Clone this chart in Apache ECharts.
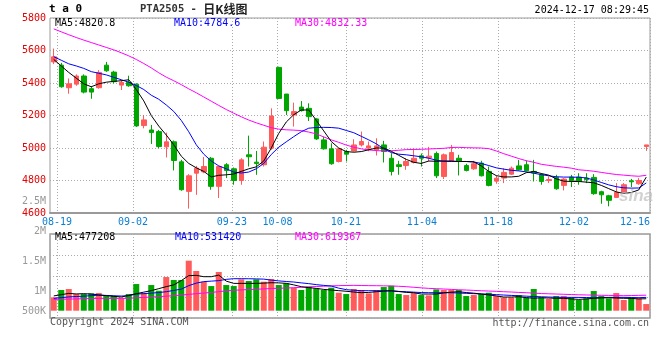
<!DOCTYPE html>
<html><head><meta charset="utf-8">
<script src="https://cdn.jsdelivr.net/npm/echarts@6/dist/echarts.min.js"></script>
<style>html,body{margin:0;padding:0;background:#fff}#c{width:660px;height:360px}</style>
</head><body><div id="c"></div>
<script>
// ---------- data ----------
const dates = ['08-16','08-19','08-20','08-21','08-22','08-23','08-26','08-27','08-28','08-29','08-30',
'09-02','09-03','09-04','09-05','09-06','09-09','09-10','09-11','09-12','09-13','09-18','09-19','09-20','09-23','09-24','09-25','09-26','09-27','09-30',
'10-08','10-09','10-10','10-11','10-14','10-15','10-16','10-17','10-18','10-21','10-22','10-23','10-24','10-25','10-28','10-29','10-30','10-31',
'11-01','11-04','11-05','11-06','11-07','11-08','11-11','11-12','11-13','11-14','11-15','11-18','11-19','11-20','11-21','11-22','11-25','11-26','11-27','11-28','11-29',
'12-02','12-03','12-04','12-05','12-06','12-09','12-10','12-11','12-12','12-13','12-16'];

const open = [5530,5510,5371,5393,5443,5365,5371,5510,5467,5387,5404,
5393,5138,5111,5101,5007,5038,4915,4733,4845,4853,4937,4764,4897,4872,4800,4958,4913,4897,4999,
5496,5332,5203,5252,5244,5179,5050,4995,4917,4978,4982,5019,4999,4989,5019,4937,4897,4892,
4911,4952,4940,4966,4825,4921,4937,4892,4872,4907,4856,4796,4815,4839,4890,4897,4856,4835,4800,4819,4770,
4821,4821,4815,4819,4731,4706,4696,4727,4798,4780,5009];
const close = [5561,5377,5395,5443,5344,5344,5465,5475,5408,5404,5383,
5136,5173,5095,5009,5038,4923,4743,4829,4876,4886,4764,4886,4862,4800,4927,4946,4905,5005,5197,
5305,5230,5224,5230,5193,5056,4995,4903,4995,4962,5019,5040,5013,5013,4978,4856,4886,4917,
4937,4937,4950,4829,4958,4972,4917,4862,4903,4829,4770,4814,4850,4876,4866,4860,4846,4794,4806,4749,4809,
4800,4794,4805,4719,4712,4678,4727,4774,4792,4800,5019];
const low = [5516,5371,5334,5383,5336,5303,5365,5469,5398,5357,5377,
5130,5121,5025,4999,4942,4862,4737,4627,4712,4845,4743,4692,4815,4774,4774,4886,4835,4886,4989,
5301,5203,5132,5224,5166,5050,4990,4897,4911,4917,4978,5009,4980,4954,4911,4831,4835,4866,
4905,4886,4917,4815,4809,4917,4831,4856,4866,4825,4764,4780,4784,4835,4860,4856,4794,4774,4784,4743,4739,
4760,4774,4784,4712,4657,4641,4692,4719,4760,4774,4982];
const high = [5612,5524,5428,5453,5453,5381,5479,5530,5475,5418,5445,
5398,5203,5142,5111,5095,5046,4927,4839,4890,4945,4945,4890,4907,4880,4937,5076,4982,5040,5244,
5500,5332,5279,5289,5275,5183,5070,5029,4999,4989,5054,5101,5040,5060,5044,4968,4921,4937,
4999,4966,5007,4978,4966,5019,4958,4903,4921,4921,4886,4830,4876,4886,4927,4923,4927,4845,4825,4835,4815,
4835,4845,4845,4839,4737,4712,4784,4784,4810,4815,5019];

const ma5 = [5545,5505,5465,5430,5395,5377,5395,5405,5410,5414,5420,
5360,5290,5200,5135,5080,5020,4950,4905,4878,4856,4822,4832,4835,4840,4856,4872,4884,4920,5000,
5090,5160,5205,5234,5234,5170,5105,5040,5000,4978,4974,4978,4989,5000,5000,4980,4955,4930,
4912,4905,4920,4918,4920,4920,4917,4917,4915,4890,4856,4830,4822,4822,4826,4848,4856,4843,4833,4810,4796,
4794,4794,4790,4786,4770,4750,4730,4720,4726,4742,4821];
const ma10 = [5562,5540,5518,5505,5490,5470,5460,5450,5435,5420,5405,
5385,5360,5325,5300,5265,5225,5170,5100,5020,4962,4920,4890,4872,4852,4846,4852,4872,4905,4960,
5005,5038,5070,5100,5122,5126,5127,5126,5122,5108,5094,5072,5050,5026,4995,4972,4962,4958,
4952,4946,4937,4925,4918,4917,4917,4917,4914,4905,4892,4878,4870,4863,4859,4853,4845,4836,4829,4823,4821,
4821,4820,4816,4803,4788,4773,4762,4755,4753,4754,4785];
const ma30 = [5733,5715,5697,5680,5664,5649,5634,5619,5604,5586,5567,
5545,5520,5493,5463,5436,5414,5390,5364,5340,5314,5288,5262,5237,5214,5192,5172,5155,5140,5125,
5116,5112,5110,5107,5098,5087,5068,5050,5035,5018,5005,4995,4988,4984,4982,4983,4986,4990,
4991,4992,4994,4996,4998,5003,5004,5002,5001,5000,4996,4982,4965,4950,4935,4922,4912,4900,4893,4887,4882,
4876,4866,4862,4857,4850,4843,4837,4833,4829,4826,4832];

const volume = [532000,825000,865000,665000,665000,692000,705000,585000,585000,492000,665000,
1064000,705000,1024000,798000,1343000,1224000,1224000,1995000,1583000,1157000,984000,1543000,1024000,984000,1250000,1184000,1250000,1157000,1264000,
1024000,1091000,918000,825000,958000,891000,825000,918000,718000,665000,865000,825000,692000,825000,944000,998000,665000,625000,
705000,625000,612000,851000,825000,825000,825000,585000,625000,665000,718000,585000,532000,532000,625000,532000,865000,532000,466000,585000,585000,
532000,426000,492000,785000,585000,492000,705000,426000,532000,492000,266000];
const volMa5 = [590000,640000,690000,670000,680000,665000,630000,600000,575000,545000,610000,
680000,740000,800000,880000,960000,1030000,1200000,1400000,1410000,1357000,1357000,1420000,1180000,1090000,1090000,1091000,1091000,1100000,1117000,
1110000,1091000,1030000,958000,920000,891000,850000,825000,800000,775000,745000,720000,730000,758000,780000,795000,765000,730000,
718000,665000,665000,665000,710000,740000,758000,725000,700000,665000,630000,590000,545000,545000,559000,520000,500000,515000,505000,495000,492000,
470000,452000,470000,492000,510000,519000,505000,495000,492000,470000,477208];
const volMa10 = [492000,520000,550000,565000,580000,600000,620000,610000,595000,585000,600000,
665000,680000,700000,725000,758000,810000,860000,1000000,1100000,1160000,1180000,1200000,1250000,1277000,1277000,1275000,1268000,1260000,1220000,
1190000,1165000,1144000,1110000,1080000,1040000,1010000,984000,900000,840000,815000,800000,798000,798000,798000,790000,770000,758000,
740000,725000,718000,718000,718000,718000,705000,692000,680000,670000,660000,640000,625000,610000,595000,580000,565000,555000,545000,535000,532000,
532000,530000,525000,519000,525000,532000,532000,532000,528000,519000,531420];
const volMa30 = [452000,458000,464000,470000,478000,486000,492000,492000,492000,492000,495000,
515000,530000,545000,560000,580000,600000,625000,650000,680000,705000,730000,758000,790000,815000,830000,845000,855000,870000,885000,
895000,905000,918000,935000,950000,965000,978000,990000,1000000,1005000,1011000,1005000,1000000,998000,992000,985000,975000,958000,
935000,912000,891000,878000,865000,850000,835000,825000,810000,795000,785000,772000,758000,745000,730000,718000,700000,685000,675000,665000,655000,
645000,635000,628000,622000,615000,610000,605000,600000,605000,612000,619367];

const axisDates = ['08-19','09-02','09-23','10-08','10-21','11-04','11-18','12-02','12-16'];
const priceMin = 4600, priceMax = 5800, priceStep = 200;
const volTickMin = 500000, volTickMax = 2500000, volTickStep = 500000;
const priceMaLast = ['4820.8','4784.6','4832.33'];
const volMaLast = ['477208','531420','619367'];
const titleText = 'PTA2505 - ';
const titleCjk = '日K线图';
const stampText = '2024-12-17 08:29:45';
const cornerText = 't a 0';
const copyText = 'Copyright 2024 SINA.COM';
const urlText = 'http://finance.sina.com.cn';

// ---------- chart ----------
const FONT = 'DejaVu Sans Mono';
const UP = '#ff5b5b', DOWN = '#00a600';
const GRIDC = '#ababab';
const tickIdx = axisDates.map(d => dates.indexOf(d));
const candles = dates.map((d, i) => [open[i], close[i], low[i], high[i]]);
const volData = volume.map((v, i) => ({ value: v, itemStyle: { color: close[i] >= open[i] ? UP : DOWN } }));
const volFmt = v => v >= 1e6 ? (v / 1e6) + 'M' : (v / 1e3) + 'K';

const chart = echarts.init(document.getElementById('c'), null, { renderer: 'canvas' });

const dotted = { color: GRIDC, width: 1, type: [1, 2] };
function txt(text, pos, color, extra) {
  return Object.assign({ text: text, padding: 0, itemGap: 0,
    textStyle: Object.assign({ color: color, fontFamily: FONT, fontSize: 10, fontWeight: 'normal' }, extra || {}) }, pos);
}

chart.setOption({
  animation: false,
  backgroundColor: '#fff',
  title: [
    txt(cornerText, { left: 49, top: 4 }, '#000', { fontWeight: 'bold', fontSize: 11 }),
    { text: '{a|' + titleText + '}{b|' + titleCjk + '}', left: 140, top: 3, padding: 0,
      textStyle: { rich: {
        a: { fontFamily: FONT, fontSize: 10.5, color: '#333' },
        b: { fontFamily: 'Noto Sans CJK SC', fontSize: 12, fontWeight: 'bold', color: '#222' } } } },
    txt(stampText, { right: 11, top: 5 }, '#000'),
    txt('MA5:' + priceMaLast[0], { left: 55, top: 18 }, '#000'),
    txt('MA10:' + priceMaLast[1], { left: 174, top: 18 }, '#0000ff'),
    txt('MA30:' + priceMaLast[2], { left: 295, top: 18 }, '#ff00ff'),
    txt('MA5:' + volMaLast[0], { left: 55, top: 232 }, '#000'),
    txt('MA10:' + volMaLast[1], { left: 175, top: 232 }, '#0000ff'),
    txt('MA30:' + volMaLast[2], { left: 295, top: 232 }, '#ff00ff'),
    txt(copyText, { left: 50, top: 317 }, '#555'),
    txt(urlText, { right: 11, top: 318 }, '#555'),
    { text: 'sina', left: 619, top: 188, padding: 0,
      textStyle: { fontFamily: 'Liberation Sans', fontStyle: 'italic', fontWeight: 'bold', fontSize: 17, color: 'rgba(190,190,190,0.7)' } }
  ],
  grid: [
    { left: 50, right: 10, top: 18, height: 195, show: true, borderColor: '#9a9a9a', borderWidth: 1, backgroundColor: 'transparent' },
    { left: 50, right: 10, top: 234, height: 84, show: true, borderColor: '#9a9a9a', borderWidth: 1.5, backgroundColor: 'transparent' },
    { left: 50, right: 10, top: 201, height: 120, show: false }
  ],
  xAxis: [
    { type: 'category', gridIndex: 0, data: dates, boundaryGap: true, show: false },
    { type: 'value', gridIndex: 0, min: 0.08, max: dates.length - 1, position: 'bottom',
      axisLine: { show: true, onZero: false, lineStyle: { color: '#999', width: 2 } },
      axisTick: { show: false, customValues: tickIdx },
      axisLabel: { customValues: tickIdx, formatter: v => dates[Math.round(v)], color: '#0b7fd4',
        fontFamily: FONT, fontSize: 10, margin: 4, alignMaxLabel: 'right' },
      splitLine: { show: true, lineStyle: dotted } },
    { type: 'category', gridIndex: 1, data: dates, boundaryGap: true, show: false },
    { type: 'value', gridIndex: 1, min: 0.08, max: dates.length - 1, position: 'bottom',
      axisLine: { show: false }, axisTick: { show: false, customValues: tickIdx },
      axisLabel: { show: false, customValues: tickIdx },
      splitLine: { show: true, lineStyle: dotted } },
    { type: 'value', gridIndex: 2, min: 0, max: 1, show: false }
  ],
  yAxis: [
    { type: 'value', gridIndex: 0, min: priceMin, max: priceMax, interval: priceStep,
      axisLine: { show: false }, axisTick: { show: false },
      axisLabel: { color: '#e60000', fontFamily: FONT, fontSize: 10, margin: 4, formatter: v => String(v) },
      splitLine: { show: true, lineStyle: dotted } },
    { type: 'value', gridIndex: 1, min: -291000, max: 3060000, show: false },
    { type: 'value', gridIndex: 1, min: 0, max: 4, interval: 1, position: 'left',
      axisLine: { show: false }, axisTick: { show: false }, axisLabel: { show: false },
      splitLine: { show: true, lineStyle: dotted } },
    { type: 'value', gridIndex: 2, min: volTickMin, max: volTickMax, interval: volTickStep,
      axisLine: { show: false }, axisTick: { show: false }, splitLine: { show: false },
      axisLabel: { color: '#999', fontFamily: FONT, fontSize: 10, margin: 4,
        formatter: v => v === volTickMin ? '{lo|' + volFmt(v) + '}' : volFmt(v),
        rich: { lo: { padding: [0, 0, 20, 0], color: '#999', fontFamily: FONT, fontSize: 10 } } } }
  ],
  series: [
    { type: 'candlestick', xAxisIndex: 0, yAxisIndex: 0, data: candles, barWidth: 5,
      itemStyle: { color: UP, color0: DOWN, borderColor: UP, borderColor0: DOWN, borderWidth: 1 } },
    { type: 'line', xAxisIndex: 0, yAxisIndex: 0, data: ma30, symbol: 'none', lineStyle: { color: '#ff00ff', width: 1 }, z: 3 },
    { type: 'line', xAxisIndex: 0, yAxisIndex: 0, data: ma10, symbol: 'none', lineStyle: { color: '#0000ff', width: 1 }, z: 4 },
    { type: 'line', xAxisIndex: 0, yAxisIndex: 0, data: ma5, symbol: 'none', lineStyle: { color: '#000', width: 1 }, z: 5 },
    { type: 'bar', xAxisIndex: 2, yAxisIndex: 1, data: volData, barWidth: 6 },
    { type: 'line', xAxisIndex: 2, yAxisIndex: 1, data: volMa30, symbol: 'none', lineStyle: { color: '#ff00ff', width: 1 }, z: 3 },
    { type: 'line', xAxisIndex: 2, yAxisIndex: 1, data: volMa10, symbol: 'none', lineStyle: { color: '#0000ff', width: 1 }, z: 4 },
    { type: 'line', xAxisIndex: 2, yAxisIndex: 1, data: volMa5, symbol: 'none', lineStyle: { color: '#000', width: 1 }, z: 5 }
  ]
});
</script>
</body></html>
